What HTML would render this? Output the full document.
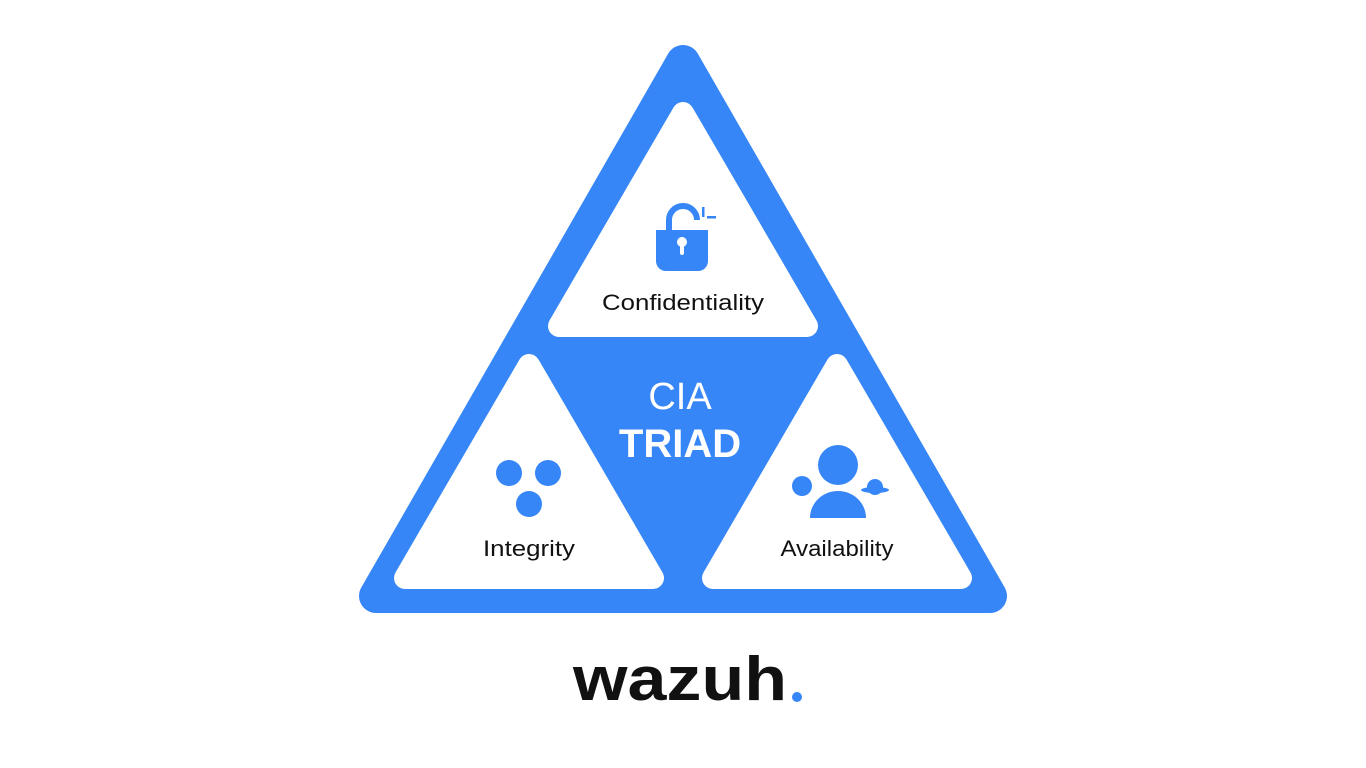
<!DOCTYPE html>
<html><head><style>
html,body{margin:0;padding:0;background:#fff;width:1366px;height:768px;overflow:hidden}
</style></head><body>
<svg width="1366" height="768" viewBox="0 0 1366 768" xmlns="http://www.w3.org/2000/svg">
<path d="M683,62 L990,596 L376,596 Z" fill="#3786f7" stroke="#3786f7" stroke-width="34" stroke-linejoin="round"/>
<g fill="#fff" stroke="#fff" stroke-width="22" stroke-linejoin="round">
<path d="M683,113 L807,326 L559,326 Z"/>
<path d="M529,365 L653,578 L405,578 Z"/>
<path d="M837,365 L961,578 L713,578 Z"/>
</g>
<g font-family="Liberation Sans, sans-serif" fill="#111" font-size="22" text-anchor="middle">
<text x="683" y="310" textLength="162" lengthAdjust="spacingAndGlyphs">Confidentiality</text>
<text x="529" y="556" textLength="92" lengthAdjust="spacingAndGlyphs">Integrity</text>
<text x="837" y="556" textLength="113" lengthAdjust="spacingAndGlyphs">Availability</text>
</g>
<text x="680" y="409" font-family="Liberation Sans, sans-serif" font-size="38" fill="#fff" text-anchor="middle">CIA</text>
<text x="680" y="457" font-family="Liberation Sans, sans-serif" font-size="40" font-weight="bold" fill="#fff" text-anchor="middle">TRIAD</text>
<path d="M669,232 V220 A14,14 0 0 1 697,220" fill="none" stroke="#3786f7" stroke-width="6"/>
<rect x="656" y="230" width="52" height="41" rx="10" fill="#3786f7"/>
<rect x="656" y="230" width="52" height="15" fill="#3786f7"/>
<circle cx="682" cy="242" r="5" fill="#fff"/>
<rect x="680" y="243" width="4" height="12" rx="2" fill="#fff"/>
<rect x="702" y="207" width="2.5" height="10" fill="#3786f7"/>
<rect x="707" y="216" width="9" height="2.5" fill="#3786f7"/>
<g fill="#3786f7">
<circle cx="509" cy="473" r="13"/><circle cx="548" cy="473" r="13"/><circle cx="529" cy="504" r="13"/>
<circle cx="838" cy="465" r="20"/>
<path d="M810,518 A28,27 0 0 1 866,518 Z"/>
<circle cx="802" cy="486" r="10"/>
<circle cx="875" cy="487" r="8"/>
<ellipse cx="875" cy="490" rx="14" ry="3"/>
</g>
<text x="573" y="700" font-family="Liberation Sans, sans-serif" font-size="62" font-weight="bold" fill="#111" textLength="214" lengthAdjust="spacingAndGlyphs">wazuh</text>
<circle cx="797" cy="697" r="5" fill="#3786f7"/>
</svg>
</body></html>
